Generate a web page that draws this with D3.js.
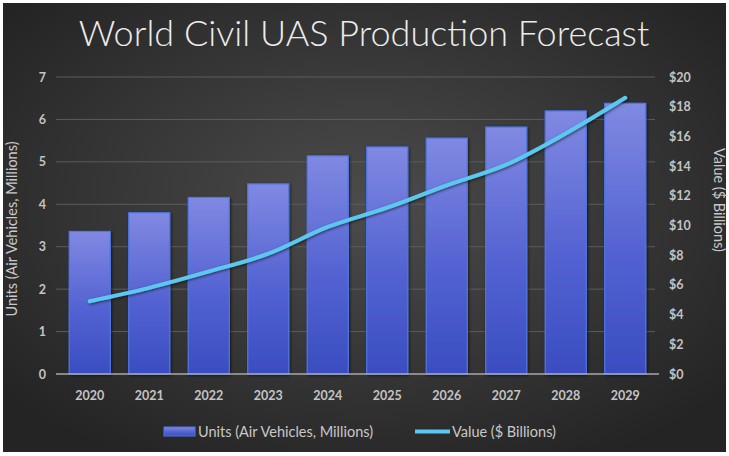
<!DOCTYPE html>
<html>
<head>
<meta charset="utf-8">
<script src="https://cdn.jsdelivr.net/npm/d3@7/dist/d3.min.js"></script>
<style>
  html, body { margin: 0; padding: 0; background: #ffffff; }
  svg { display: block; }
  text { font-family: Lato, "Open Sans", sans-serif; }
</style>
</head>
<body>
<svg id="chart" width="729" height="456"></svg>
<script>
// Forecast data
const years = ["2020", "2021", "2022", "2023", "2024", "2025", "2026", "2027", "2028", "2029"];
const unitsMillions = [3.36, 3.80, 4.16, 4.48, 5.14, 5.35, 5.56, 5.82, 6.20, 6.38];
const valueBillions = [4.9, 5.8, 6.9, 8.1, 9.9, 11.2, 12.7, 14.1, 16.2, 18.6];
const leftTicks = [0, 1, 2, 3, 4, 5, 6, 7];
const rightTicks = [0, 2, 4, 6, 8, 10, 12, 14, 16, 18, 20];

const title = "World Civil UAS Production Forecast";
const leftTitle = "Units (Air Vehicles, Millions)";
const rightTitle = "Value ($ Billions)";

const svg = d3.select("#chart");
const W = 729, H = 456;
const plot = { left: 60, right: 655, top: 77, bottom: 374 };

const defs = svg.append("defs");
const bg = defs.append("radialGradient").attr("id", "bg")
  .attr("cx", "50%").attr("cy", "45%").attr("r", "65%");
bg.append("stop").attr("offset", "0%").attr("stop-color", "#4c4c4c");
bg.append("stop").attr("offset", "100%").attr("stop-color", "#242424");

const barGrad = defs.append("linearGradient").attr("id", "barGrad")
  .attr("x1", 0).attr("y1", 0).attr("x2", 0).attr("y2", 1);
barGrad.append("stop").attr("offset", "0%").attr("stop-color", "#8089e2");
barGrad.append("stop").attr("offset", "55%").attr("stop-color", "#5362d2");
barGrad.append("stop").attr("offset", "100%").attr("stop-color", "#3a4dc0");

const shadow = defs.append("filter").attr("id", "shadow")
  .attr("x", "-20%").attr("y", "-20%").attr("width", "140%").attr("height", "140%");
shadow.append("feDropShadow").attr("dx", 1).attr("dy", 1).attr("stdDeviation", 1.5)
  .attr("flood-color", "#000").attr("flood-opacity", 0.6);

// Background panel
svg.append("rect").attr("x", 3).attr("y", 3).attr("width", W - 6).attr("height", H - 7)
  .attr("fill", "url(#bg)");

// Scales
const x = d3.scaleBand().domain(years).range([plot.left, plot.right]).paddingInner(0.31).paddingOuter(0.155);
const yL = d3.scaleLinear().domain([0, 7]).range([plot.bottom, plot.top]);
const yR = d3.scaleLinear().domain([0, 20]).range([plot.bottom, plot.top]);

// Gridlines
svg.append("g").selectAll("line").data(leftTicks.filter(d => d > 0)).join("line")
  .attr("x1", plot.left - 4).attr("x2", plot.right)
  .attr("y1", d => yL(d)).attr("y2", d => yL(d))
  .attr("stroke", "#5c5c5c").attr("stroke-width", 1);

// Bars
svg.append("g").selectAll("rect").data(years).join("rect")
  .attr("x", d => x(d))
  .attr("y", (d, i) => yL(unitsMillions[i]))
  .attr("width", x.bandwidth())
  .attr("height", (d, i) => yL(0) - yL(unitsMillions[i]))
  .attr("fill", "url(#barGrad)")
  .attr("stroke", "#4f78e6").attr("stroke-width", 1.2)
  .attr("filter", "url(#shadow)");

// Baseline
svg.append("line").attr("x1", plot.left - 4).attr("x2", plot.right + 4)
  .attr("y1", plot.bottom).attr("y2", plot.bottom)
  .attr("stroke", "#a9a9a9").attr("stroke-width", 1.5);

// Value line
const line = d3.line()
  .x((d, i) => x(years[i]) + x.bandwidth() / 2)
  .y(d => yR(d))
  .curve(d3.curveCatmullRom.alpha(0.5));
svg.append("path").datum(valueBillions)
  .attr("d", line).attr("fill", "none")
  .attr("stroke", "#5cc8f0").attr("stroke-width", 4).attr("stroke-linecap", "round")
  .attr("filter", "url(#shadow)");

const tickStyle = sel => sel.selectAll("text")
  .attr("fill", "#c4c4c4").style("font-size", "12.5px").style("font-weight", "bold");

// Left axis
const axL = svg.append("g").attr("transform", `translate(${plot.left - 14},0)`)
  .call(d3.axisLeft(yL).tickValues(leftTicks).tickSize(0).tickPadding(0).tickFormat(d3.format("d")));
axL.select(".domain").remove();
tickStyle(axL);

// Right axis
const axR = svg.append("g").attr("transform", `translate(${plot.right + 14},0)`)
  .call(d3.axisRight(yR).tickValues(rightTicks).tickSize(0).tickPadding(0).tickFormat(d => "$" + d));
axR.select(".domain").remove();
tickStyle(axR);

// Category axis
const axB = svg.append("g").attr("transform", `translate(0,${plot.bottom + 17})`)
  .call(d3.axisBottom(x).tickSize(0).tickPadding(0));
axB.select(".domain").remove();
tickStyle(axB);

// Title
svg.append("text").attr("x", 364).attr("y", 46).attr("text-anchor", "middle")
  .attr("fill", "#ececec").style("font-size", "36px").style("font-weight", "300")
  .text(title);

// Axis titles
svg.append("text").attr("transform", "translate(17,229) rotate(-90)")
  .attr("text-anchor", "middle").attr("fill", "#c8c8c8").style("font-size", "14.5px")
  .text(leftTitle);
svg.append("text").attr("transform", "translate(714,200) rotate(90)")
  .attr("text-anchor", "middle").attr("fill", "#c8c8c8").style("font-size", "14.5px")
  .text(rightTitle);

// Legend
const lg = svg.append("g");
lg.append("rect").attr("x", 164).attr("y", 427).attr("width", 31).attr("height", 9)
  .attr("fill", "url(#barGrad)").attr("stroke", "#4f78e6").attr("stroke-width", 1);
lg.append("text").attr("x", 198).attr("y", 437).attr("fill", "#c8c8c8").style("font-size", "14.5px")
  .text("Units (Air Vehicles, Millions)");
lg.append("line").attr("x1", 415).attr("x2", 450).attr("y1", 431.5).attr("y2", 431.5)
  .attr("stroke", "#5cc8f0").attr("stroke-width", 4);
lg.append("text").attr("x", 452).attr("y", 437).attr("fill", "#c8c8c8").style("font-size", "14.5px")
  .text("Value ($ Billions)");
</script>
</body>
</html>
